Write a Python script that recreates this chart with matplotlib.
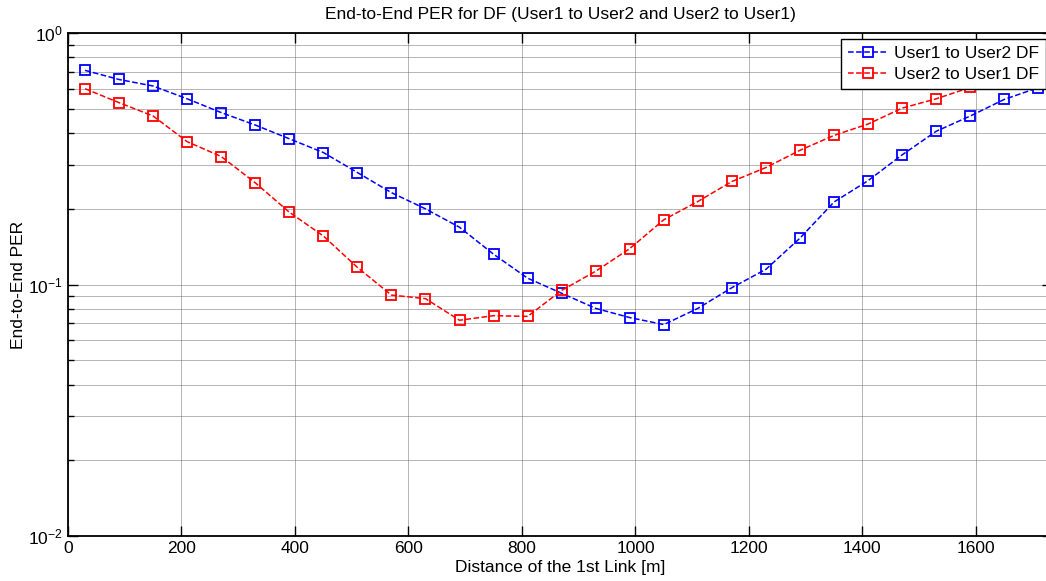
import numpy as np
import matplotlib
matplotlib.use('Agg')
import matplotlib.pyplot as plt

# distances of the 1st link [m]
dist = [30, 90, 150, 210, 270, 330, 390, 450, 510, 570, 630, 690, 750, 810, 870,
        930, 990, 1050, 1110, 1170, 1230, 1290, 1350, 1410, 1470, 1530, 1590, 1650, 1710]

# PER
per_u1_u2 = [0.711, 0.654, 0.616, 0.548, 0.483, 0.431, 0.380, 0.335, 0.279, 0.232,
             0.200, 0.169, 0.132, 0.106, 0.0923, 0.0804, 0.0739, 0.0693, 0.0804, 0.0972,
             0.115, 0.153, 0.213, 0.259, 0.328, 0.407, 0.468, 0.545, 0.607]
per_u2_u1 = [0.601, 0.529, 0.468, 0.370, 0.323, 0.254, 0.194, 0.156, 0.117, 0.0908,
             0.0879, 0.0721, 0.0752, 0.0747, 0.0948, 0.113, 0.139, 0.181, 0.214, 0.257,
             0.292, 0.342, 0.392, 0.435, 0.503, 0.548, 0.608, 0.67, 0.74]

plt.rcParams['font.family'] = ['Liberation Sans', 'DejaVu Sans']
plt.rcParams['font.size'] = 12.5

fig = plt.figure(figsize=(10.46, 5.81), dpi=100)
# right edge of the axes sits just past the image edge, as in the reference
ax = fig.add_axes([0.065, 0.0775, 0.9407, 0.8655])

ax.semilogy(dist, per_u1_u2, 'b--s', markersize=7.5, mfc='none', mew=1.3, lw=1.1,
            label='User1 to User2 DF')
ax.semilogy(dist, per_u2_u1, 'r--s', markersize=7.5, mfc='none', mew=1.3, lw=1.1,
            label='User2 to User1 DF')

ax.set_xlim(0, 1734)
ax.set_ylim(1e-2, 1)
ax.set_xticks(range(0, 1601, 200))

grid_style = dict(color='#6e6e6e', linestyle=(0, (1, 1)), lw=0.72)
ax.grid(True, which='major', **grid_style)
ax.grid(True, which='minor', axis='y', **grid_style)
ax.tick_params(which='both', direction='in', top=True, right=True, labelsize=12.5)
ax.tick_params(which='major', length=7, width=1)
ax.tick_params(which='minor', length=4, width=1)
for s in ax.spines.values():
    s.set_linewidth(1.3)

ax.set_title('End-to-End PER for DF (User1 to User2 and User2 to User1)', fontsize=12.5, pad=10)
ax.set_xlabel('Distance of the 1st Link [m]', labelpad=3)
ax.set_ylabel('End-to-End PER', labelpad=2)

leg = ax.legend(loc='upper right', bbox_to_anchor=(1.0, 1.0), fancybox=False,
                framealpha=1, edgecolor='black', borderpad=0.4, labelspacing=0.3,
                handlelength=2.3, handletextpad=0.35, borderaxespad=0.35, fontsize=12.5)
leg.get_frame().set_linewidth(1.0)

fig.savefig('out.png', dpi=100)
